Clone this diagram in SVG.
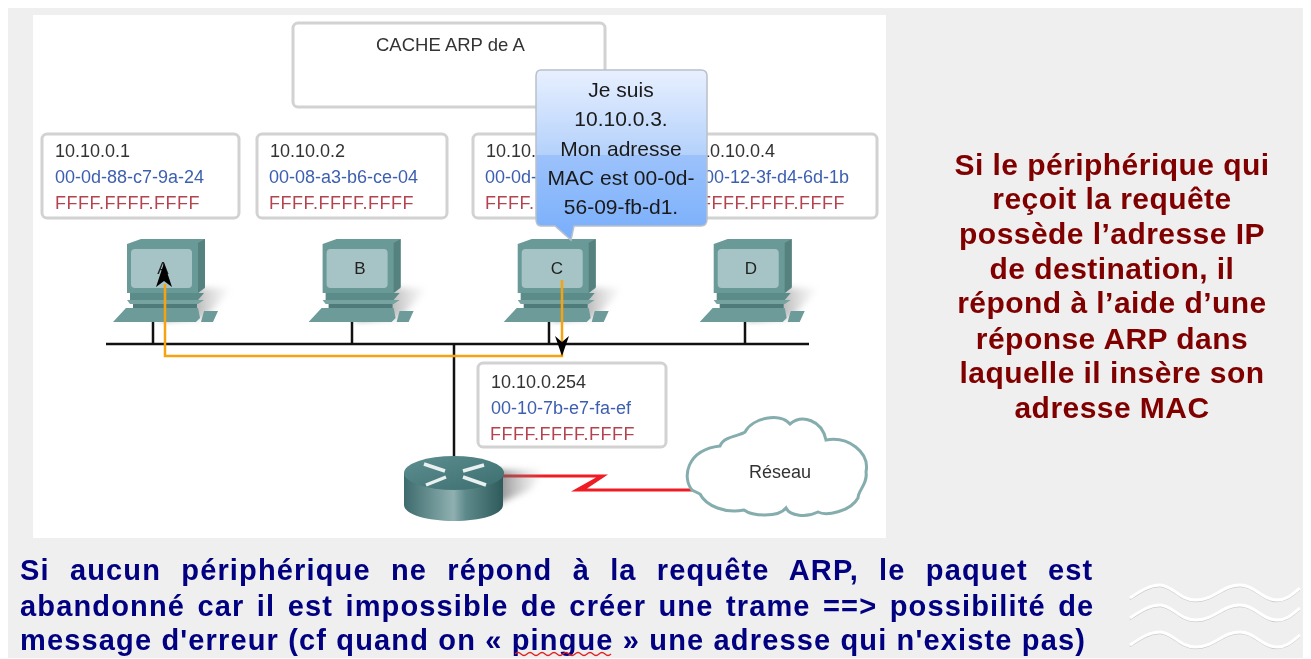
<svg xmlns="http://www.w3.org/2000/svg" width="1311" height="659" viewBox="0 0 1311 659">
<style>
text{font-family:"Liberation Sans",Arial,sans-serif}
.box{fill:#fff;stroke:#d2d2d2;stroke-width:3}
.ip{font-size:18px;fill:#333}
.mac{font-size:18px;fill:#3d5fb0}
.ff{font-size:18px;fill:#b5434f;letter-spacing:.5px}
.pcl{font-size:17px;fill:#222;text-anchor:middle}
.net{stroke:#111;stroke-width:2.5;fill:none}
.ora{stroke:#f5a310;stroke-width:2.5;fill:none}
.bub{font-size:21px;fill:#1a1a1a;text-anchor:middle}
.rt{font-size:30px;font-weight:bold;fill:#800000;text-anchor:middle;letter-spacing:.45px}
.bt{font-size:29px;font-weight:bold;fill:#000080;letter-spacing:1.15px}
.wv{fill:none;stroke:#fff;stroke-width:3}
.wvs{fill:none;stroke:#cccccc;stroke-width:1.5}
</style>
<defs>
<filter id="soft" x="0" y="0" width="100%" height="100%" color-interpolation-filters="sRGB"><feGaussianBlur stdDeviation=".55"/></filter>
<filter id="shb" x="-20%" y="-20%" width="140%" height="140%" color-interpolation-filters="sRGB"><feGaussianBlur stdDeviation="3"/></filter>
<linearGradient id="bubg" x1="0" y1="0" x2="0" y2="1">
<stop offset="0" stop-color="#e8f0ff"/><stop offset=".5" stop-color="#b4d1fb"/><stop offset=".5" stop-color="#9cc2fb"/><stop offset="1" stop-color="#78aefb"/>
</linearGradient>
<linearGradient id="rtg" x1="0" y1="0" x2="1" y2="0">
<stop offset="0" stop-color="#3d6b6e"/><stop offset=".5" stop-color="#8fb0b0"/><stop offset=".62" stop-color="#5f8a8c"/><stop offset="1" stop-color="#2f5a5c"/>
</linearGradient>
<linearGradient id="rtt" x1="0" y1="0" x2="1" y2="1">
<stop offset="0" stop-color="#5e8f90"/><stop offset="1" stop-color="#3c6d6f"/>
</linearGradient>
<linearGradient id="shd" x1="0" y1="0" x2="1" y2="0">
<stop offset="0" stop-color="#333" stop-opacity=".9"/><stop offset="1" stop-color="#999" stop-opacity="0"/>
</linearGradient>
<linearGradient id="shr" x1="0" y1="0" x2="1" y2="0">
<stop offset="0" stop-color="#555" stop-opacity=".75"/><stop offset="1" stop-color="#aaa" stop-opacity="0"/>
</linearGradient>
<path id="wave" d="M1130 598C1142 590 1150 585 1160 585C1172 585 1180 600 1195 600C1215 600 1222 585 1240 585C1255 585 1262 600 1277 600C1288 600 1295 592 1300 588"/>
<g id="pc">
<path d="M160 320L190 288H232L205 318Z" fill="url(#shd)" filter="url(#shb)"/>
<path d="M127 244L141 239H205V288L198 293H127Z" fill="#6a9a98"/>
<path d="M198 243L205 239V287L198 293Z" fill="#55817f"/>
<rect x="131" y="249" width="61" height="39" rx="4" fill="#a6c4c6"/>
<path d="M130 293H204L198 300H130Z" fill="#5c8c8a"/>
<path d="M127 300H204L198 304H130Z" fill="#76a3a0"/>
<path d="M133 304H197V309H133Z" fill="#4f7c7b"/>
<path d="M126 308H198L200 318L196 322H113Z" fill="#6c9b99"/>
<path d="M204 311H218L213 322H201Z" fill="#6c9b99"/>
</g>
</defs>
<rect width="1311" height="659" fill="#fff"/>
<g filter="url(#soft)">
<rect x="8" y="8" width="1295" height="650" fill="#efefef"/>
<rect x="33" y="15" width="853" height="523" fill="#fff"/>

<g id="cache"><rect class="box" x="293" y="23" width="312" height="84" rx="5"/>
<text x="376" y="51" font-size="18.5" fill="#333">CACHE ARP de A</text></g>

<g id="info-a"><rect class="box" x="42" y="134" width="197" height="84" rx="5"/>
<text class="ip" x="55" y="157">10.10.0.1</text><text class="mac" x="55" y="183">00-0d-88-c7-9a-24</text><text class="ff" x="55" y="209">FFFF.FFFF.FFFF</text></g>
<g id="info-b"><rect class="box" x="257" y="134" width="190" height="84" rx="5"/>
<text class="ip" x="270" y="157">10.10.0.2</text><text class="mac" x="269" y="183">00-08-a3-b6-ce-04</text><text class="ff" x="269" y="209">FFFF.FFFF.FFFF</text></g>
<g id="info-c"><rect class="box" x="473" y="134" width="100" height="84" rx="5"/>
<text class="ip" x="486" y="157">10.10.</text><text class="mac" x="485" y="183">00-0d-</text><text class="ff" x="485" y="209">FFFF.</text></g>
<g id="info-d"><rect class="box" x="680" y="134" width="197" height="84" rx="5"/>
<text class="ip" x="700" y="157">10.10.0.4</text><text class="mac" x="704" y="183">00-12-3f-d4-6d-1b</text><text class="ff" x="700" y="209">FFFF.FFFF.FFFF</text></g>
<g id="info-r"><rect class="box" x="478" y="363" width="188" height="84" rx="5"/>
<text class="ip" x="491" y="388">10.10.0.254</text><text class="mac" x="491" y="414">00-10-7b-e7-fa-ef</text><text class="ff" x="490" y="440">FFFF.FFFF.FFFF</text></g>

<g id="pc-a"><use href="#pc"/><text class="pcl" x="163" y="274">A</text></g>
<g id="pc-b"><use href="#pc" x="195.6"/><text class="pcl" x="360" y="274">B</text></g>
<g id="pc-c"><use href="#pc" x="390.7"/><text class="pcl" x="557" y="274">C</text></g>
<g id="pc-d"><use href="#pc" x="586.7"/><text class="pcl" x="751" y="274">D</text></g>

<g id="connectors">
<path class="net" d="M106 344H809M153 322V344M352 322V344M549 322V344M745 322V344M454 344V457"/>
<path d="M503 474.5H608L587 488.5H692V491.5H571L596 477.5H503Z" fill="#f01c24"/>
<path class="ora" d="M562 280V356H165V284"/>
<path d="M555 336L562 342L569 336L562 356Z" fill="#000"/>
<path d="M164 263L172 287L164 281L156 287Z" fill="#000"/>
</g>

<g id="bubble">
<path d="M541 70H701Q707 70 707 76V219Q707 226 701 226H574L571 240L555 226H541Q536 226 536 219V76Q536 70 541 70Z" fill="url(#bubg)" stroke="#b9c0c9" stroke-width="1.5"/>
<text class="bub" x="621" y="97">Je suis</text><text class="bub" x="621" y="126">10.10.0.3.</text><text class="bub" x="621" y="156">Mon adresse</text><text class="bub" x="621" y="185">MAC est 00-0d-</text><text class="bub" x="621" y="214">56-09-fb-d1.</text>
</g>

<g id="router">
<path d="M495 470H545L530 490L495 505Z" fill="url(#shr)" filter="url(#shb)"/>
<path d="M404 473V505C404 514 426 521 454 521C482 521 503 514 503 505V473Z" fill="url(#rtg)"/>
<ellipse cx="454" cy="473" rx="50" ry="17" fill="url(#rtt)"/>
<path d="M424 464L445 471M484 465L463 471M426 485L446 477M486 485L463 477" stroke="#e8f0f0" stroke-width="3.5" fill="none"/>
</g>

<g id="cloud">
<path d="M692 490C682 478 686 450 720 446C724 436 740 436 745 432C752 418 780 412 790 424C802 414 822 420 826 440C848 436 870 452 866 472C868 484 858 490 858 498C850 512 826 516 818 512C806 518 790 516 786 508C778 518 752 516 744 510C726 514 706 506 700 494Z" fill="#fff" stroke="#86adae" stroke-width="3"/>
<text x="780" y="478" font-size="18" fill="#333" text-anchor="middle">Réseau</text>
</g>

<g id="side-text">
<text class="rt" x="1112" y="175">Si le périphérique qui</text>
<text class="rt" x="1112" y="209">reçoit la requête</text>
<text class="rt" x="1112" y="244">possède l’adresse IP</text>
<text class="rt" x="1112" y="279">de destination, il</text>
<text class="rt" x="1112" y="313">répond à l’aide d’une</text>
<text class="rt" x="1112" y="349">réponse ARP dans</text>
<text class="rt" x="1112" y="383">laquelle il insère son</text>
<text class="rt" x="1112" y="418">adresse MAC</text>
</g>

<g id="bottom-text">
<text class="bt" x="20" y="580" style="word-spacing:11px">Si aucun périphérique ne répond à la requête ARP, le paquet est</text>
<text class="bt" x="20" y="616" style="word-spacing:3.2px">abandonné car il est impossible de créer une trame ==&gt; possibilité de</text>
<text class="bt" x="20" y="650">message d'erreur (cf quand on « pingue » une adresse qui n'existe pas)</text>
<path d="M515 654q3 -3 6 0t6 0t6 0t6 0t6 0t6 0t6 0t6 0t6 0t6 0t6 0t6 0t6 0t6 0t6 0t6 0" fill="none" stroke="#e02020" stroke-width="1.2"/>
</g>

<g id="waves" fill="none">
<use href="#wave" class="wvs" y="1.5"/><use href="#wave" class="wv"/>
<use href="#wave" class="wvs" y="21.5"/><use href="#wave" class="wv" y="20"/>
<use href="#wave" class="wvs" y="48.5"/><use href="#wave" class="wv" y="47"/>
</g>
</g>
</svg>
